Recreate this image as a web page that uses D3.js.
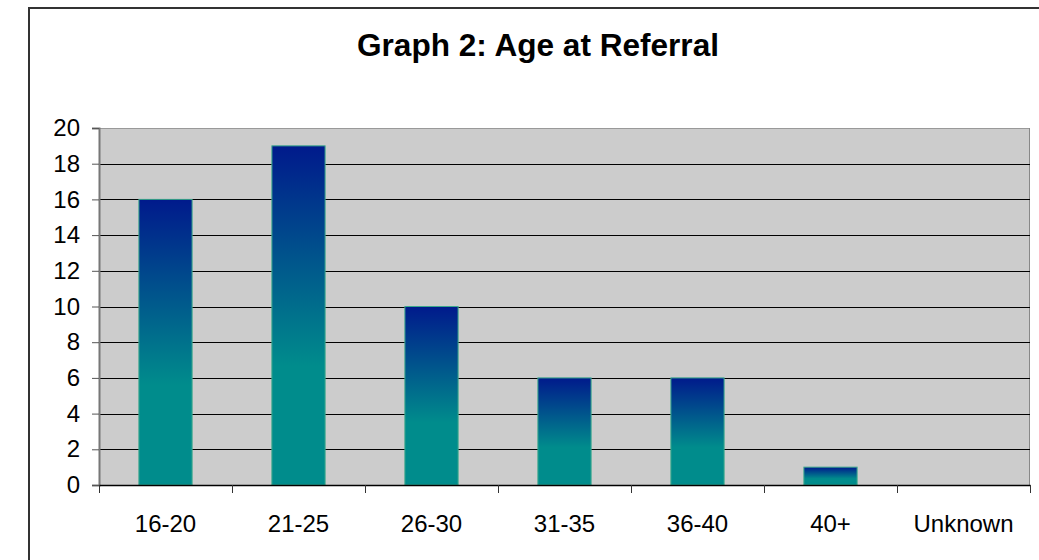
<!DOCTYPE html>
<html>
<head>
<meta charset="utf-8">
<script src="https://cdn.jsdelivr.net/npm/d3@7"></script>
<style>
  body { margin: 0; background: #fff; }
  text { font-family: "Liberation Sans", Arial, sans-serif; }
</style>
</head>
<body>
<div id="chart"></div>
<script>
const categories = ["16-20", "21-25", "26-30", "31-35", "36-40", "40+", "Unknown"];
const counts = [16, 19, 10, 6, 6, 1, 0];
const yTicks = [0, 2, 4, 6, 8, 10, 12, 14, 16, 18, 20];
const title = "Graph 2: Age at Referral";

const W = 1039, H = 560;
const margin = {top: 128, right: 9, bottom: 75, left: 99};
const width = W - margin.left - margin.right,
      height = H - margin.top - margin.bottom;

const svg = d3.select("#chart").append("svg")
    .attr("width", W).attr("height", H);

// gradient for bars
const grad = svg.append("defs").append("linearGradient")
    .attr("id", "barGrad").attr("x1", 0).attr("y1", 0).attr("x2", 0).attr("y2", 1);
grad.append("stop").attr("offset", "0%").attr("stop-color", "#001a8c");
grad.append("stop").attr("offset", "65%").attr("stop-color", "#008c8c");
grad.append("stop").attr("offset", "100%").attr("stop-color", "#008c8c");

// outer chart border
svg.append("rect")
    .attr("x", 29).attr("y", 8).attr("width", 1040).attr("height", 600)
    .attr("fill", "none").attr("stroke", "#333").attr("stroke-width", 2);

svg.append("text")
    .attr("x", 538).attr("y", 56)
    .attr("text-anchor", "middle")
    .attr("font-size", 31).attr("font-weight", "bold")
    .attr("textLength", 362).attr("lengthAdjust", "spacingAndGlyphs")
    .text(title);

const g = svg.append("g").attr("transform", `translate(${margin.left}, ${margin.top})`);

const xBand = d3.scaleBand().domain(categories).range([0, width]);
const y = d3.scaleLinear().domain([0, 20]).range([height, 0]);

// plot area
g.append("rect")
    .attr("width", width).attr("height", height)
    .attr("fill", "#cccccc");
g.append("line").attr("x1", 0).attr("x2", width).attr("y1", 0.5).attr("y2", 0.5)
    .attr("stroke", "#999");
g.append("line").attr("x1", width - 0.5).attr("x2", width - 0.5).attr("y1", 0).attr("y2", height)
    .attr("stroke", "#888");

// gridlines
g.selectAll(".grid").data(yTicks.filter(d => d > 0 && d < 20)).enter()
  .append("line")
    .attr("x1", 0).attr("x2", width)
    .attr("y1", d => Math.round(y(d)) + 0.5).attr("y2", d => Math.round(y(d)) + 0.5)
    .attr("stroke", "#000").attr("stroke-width", 1);

// bars
g.selectAll(".bar").data(counts).enter()
  .append("rect")
    .attr("x", (d, i) => xBand(categories[i]) + xBand.bandwidth() * 0.3)
    .attr("y", d => y(d))
    .attr("width", xBand.bandwidth() * 0.4)
    .attr("height", d => height - y(d))
    .attr("fill", "url(#barGrad)")
    .attr("stroke", d => d > 0 ? "#3aa88c" : "none")
    .attr("stroke-width", 1);

// y axis
const yAxis = g.append("g")
    .call(d3.axisLeft(y).tickValues(yTicks).tickSize(7).tickPadding(12));
yAxis.select(".domain").attr("stroke", "#777").attr("stroke-width", 2);
yAxis.selectAll(".tick line").attr("stroke", "#555");
yAxis.selectAll("text").attr("font-size", 24).attr("fill", "#000")
    .style("font-family", "'Liberation Sans', Arial, sans-serif");

// x axis
const xAxis = g.append("g").attr("transform", `translate(0, ${height})`)
    .call(d3.axisBottom(xBand).tickSize(0).tickPadding(30));
xAxis.select(".domain").attr("stroke", "#000").attr("stroke-width", 1.5);
xAxis.selectAll("text").attr("font-size", 24).attr("fill", "#000")
    .style("font-family", "'Liberation Sans', Arial, sans-serif");

// category boundary ticks
g.selectAll(".xtick").data(categories.concat([null])).enter()
  .append("line")
    .attr("x1", (d, i) => Math.round(i * xBand.step()) + 0.5)
    .attr("x2", (d, i) => Math.round(i * xBand.step()) + 0.5)
    .attr("y1", height).attr("y2", height + 8)
    .attr("stroke", "#333");
</script>
</body>
</html>
